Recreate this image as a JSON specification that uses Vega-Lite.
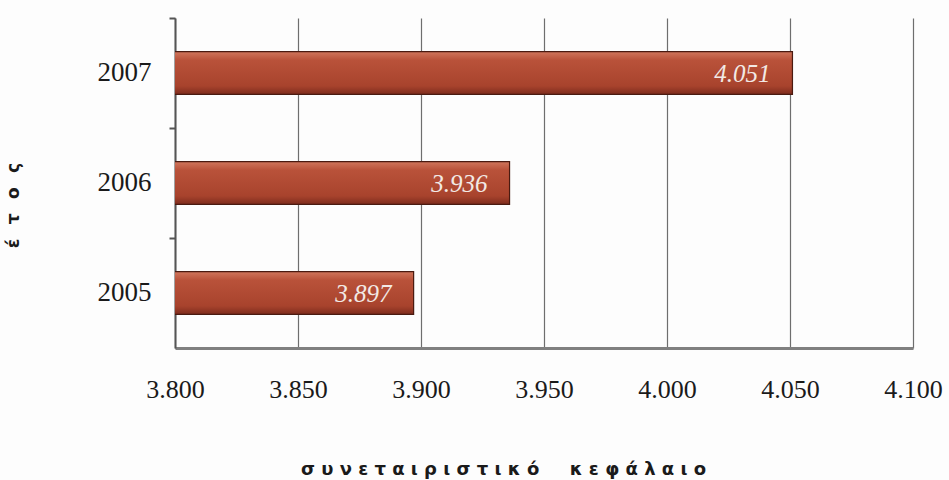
{
  "$schema": "https://vega.github.io/schema/vega-lite/v6.json",
  "width": 738,
  "height": 330,
  "autosize": {"type": "none"},
  "padding": {"left": 175, "top": 18, "right": 36, "bottom": 132},
  "background": "#fdfdfd",
  "config": {
    "locale": {"number": {"decimal": ",", "thousands": ".", "grouping": [3], "currency": ["", " €"]}},
    "view": {"stroke": null}
  },
  "data": {"values": [
    {"year": "2007", "value": 4051},
    {"year": "2006", "value": 3936},
    {"year": "2005", "value": 3897}
  ]},
  "layer": [
    {
      "mark": {
        "type": "bar",
        "clip": true,
        "stroke": "#4a1a10",
        "strokeWidth": 1.2,
        "color": {"gradient": "linear", "x1": 0, "y1": 0, "x2": 0, "y2": 1,
          "stops": [
            {"offset": 0, "color": "#d0765c"},
            {"offset": 0.2, "color": "#b9523a"},
            {"offset": 0.8, "color": "#a8432d"},
            {"offset": 1, "color": "#7e2c1d"}
          ]}
      },
      "encoding": {
        "x": {
          "field": "value", "type": "quantitative",
          "scale": {"domain": [3800, 4100], "zero": false, "nice": false},
          "axis": {
            "values": [3800, 3850, 3900, 3950, 4000, 4050, 4100],
            "format": ",.0f",
            "grid": true, "gridColor": "#6e6e6e", "gridWidth": 1.2,
            "domainColor": "#808080", "domainWidth": 3,
            "ticks": false, "labelFlush": false, "labelOverlap": false,
            "labelFont": "Liberation Serif", "labelFontSize": 26, "labelColor": "#1a1a1a",
            "labelPadding": 28, "labelFontWeight": "normal",
            "title": "σ υ ν ε τ α ι ρ ι σ τ ι κ ό \u2003 κ ε φ ά λ α ι ο",
            "titleFont": "DejaVu Sans", "titleFontSize": 18, "titleFontWeight": "bold",
            "titleColor": "#1a1a1a",
            "titleX": 328, "titleY": 126, "titleBaseline": "alphabetic"
          }
        },
        "y": {
          "field": "year", "type": "nominal", "sort": "descending",
          "scale": {"paddingInner": 0.61, "paddingOuter": 0.305},
          "axis": {
            "orient": "left",
            "ticks": true, "tickSize": 6, "tickColor": "#555555", "tickWidth": 2,
            "bandPosition": -0.782, "labelOffset": 0,
            "domainColor": "#555555", "domainWidth": 2,
            "labelFont": "Liberation Serif", "labelFontSize": 27, "labelColor": "#1a1a1a",
            "labelPadding": 18, "labelFontWeight": "normal",
            "title": "έ\u2002 τ\u2002 ο\u2002 ς",
            "titleFont": "DejaVu Sans", "titleFontSize": 17, "titleFontWeight": "bold",
            "titleColor": "#1a1a1a", "titleAngle": 270,
            "titleX": -162, "titleY": 187, "titleAlign": "center", "titleBaseline": "middle"
          }
        }
      }
    },
    {
      "mark": {
        "type": "text", "align": "right", "baseline": "middle", "dx": -22, "dy": 1,
        "font": "Liberation Serif", "fontStyle": "italic", "fontSize": 25,
        "fill": "#f2e9e5"
      },
      "encoding": {
        "x": {"field": "value", "type": "quantitative"},
        "y": {"field": "year", "type": "nominal", "sort": "descending"},
        "text": {"field": "value", "type": "quantitative", "format": ",.0f"}
      }
    }
  ]
}
